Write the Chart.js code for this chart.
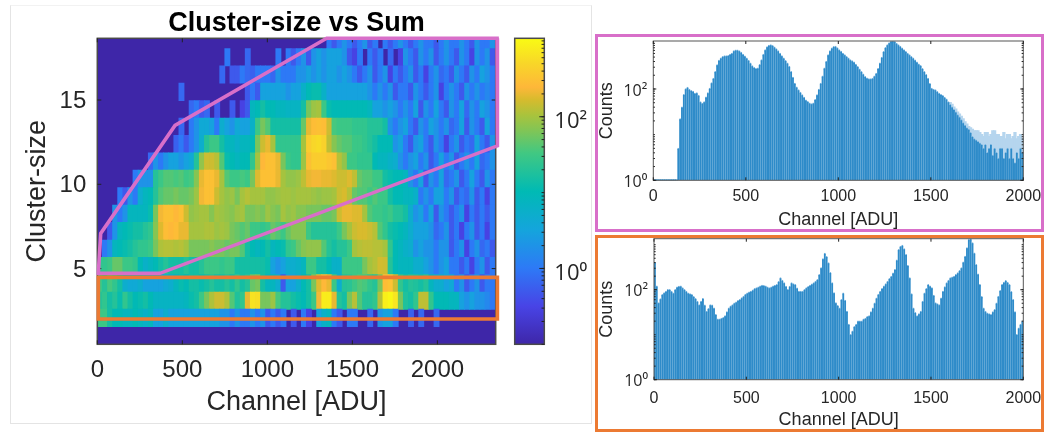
<!DOCTYPE html>
<html><head><meta charset="utf-8">
<style>
html,body{margin:0;padding:0;background:#fff;width:1044px;height:433px;overflow:hidden}
canvas{position:absolute;filter:blur(0.55px)}
.box{position:absolute;box-sizing:border-box;pointer-events:none}
</style>
<script src="https://cdn.jsdelivr.net/npm/chart.js@4"></script>
</head><body>
<div class="box" style="left:10px;top:5px;width:582px;height:419px;border:1px solid #e4e4e4;border-top-color:#f2f2f2"></div>
<canvas id="heat" width="512" height="433" style="left:0;top:0"></canvas>
<canvas id="cbar" width="95" height="433" style="left:500px;top:0"></canvas>
<canvas id="h1" width="470" height="217" style="left:596px;top:14px"></canvas>
<canvas id="h2" width="470" height="216" style="left:596px;top:216px"></canvas>
<div class="box" style="left:595px;top:34px;width:449px;height:198px;border:3px solid #D86FC9"></div>
<div class="box" style="left:595px;top:235px;width:449px;height:197px;border:3px solid #EC7A33"></div>
<script>
// ---- Heat map: counts per (cluster-size band, 30 ADU channel bin) ----
const rowEdges=[1.556,2.59,3.61,4.64,5.67,6.69,7.74,8.77,9.8,10.84,11.86,12.9,13.93,14.96,16,17.02,18.05,18.66];
const row0=[30,30,15,10,10,8,8,10,8,6, 8,3,3,5,3,3,3,3,3,3, 3,3,3,3,2,2,1,2,1,1, 2,1,2,0.5,1,0.5,1,0,0.5,0, 1,0.3,0,3,6,8,1,0.5,0,1, 1,0,0,0.7,0,2,3,3,1,0, 0,0.6,0,0.7,0,0,0.7,0,0,0, 0,0,0,0,0,0,0,0];
const row1=[20,25,15,20,12,25,15,10,12,15, 10,7,7,7,7,7,7,8,12,15, 30,60,110,150,150,110,40,18,25,200, 650,600,60,60,90,35,20,20,15,12, 10,15,30,220,800,800,200,20,15,60, 120,40,20,20,25,120,850,1000,700,60, 18,15,25,130,130,25,10,10,10,8, 8,3,2,3,2,2,1.5,1];
const row2=[30,20,35,25,15,5,4,4,5,3, 3,3,3,4,5,8,12,10,15,15, 12,15,20,15,15,20,15,25,15,20, 50,60,15,8,8,5,0.5,3,3,5, 10,15,60,180,250,200,30,5,20,22, 30,40,35,25,20,60,280,320,150,25, 15,20,18,15,20,8,5,5,3,4, 1,2,0.5,1,2,0.5,1,1];
const row3=[25,25,30,50,50,30,30,25,10,6, 8,10,15,20,15,15,15,20,15,15, 20,30,30,30,25,30,30,15,15,15, 15,15,15,12,3,2,3,5,5,6, 8,30,30,15,15,10,6,6,30,30, 30,30,60,100,120,160,150,20,10,8, 8,8,5,5,3,2,1,2,3,1, 1,0.5,1,0.3,1,2,0.5,1];
const row4=[0,1,2,8,10,12,15,20,25,25, 30,60,110,120,120,110,120,100,60,60, 60,60,70,60,60,50,60,60,40,15, 10,8,10,15,8,10,12,25,30,50, 70,80,80,80,40,20,15,20,20,30, 100,120,130,130,120,120,100,25,10,8, 6,5,2,3,2,2,1,2,2,0.5, 1,2,0.3,1,2,0.7,1,0.5];
const row5=[0,0,0.5,2,8,10,12,15,15,20, 25,70,180,280,250,280,200,200,100,100, 100,110,110,90,100,90,60,50,40,50, 30,30,25,30,50,40,30,50,70,70, 70,30,20,20,20,20,20,30,60,100, 150,170,170,150,120,40,25,15,12,10, 8,5,3,3,3,2,0.7,1,2,0.5, 1,0.3,1,2,0.5,1,0.3,1];
const row6=[0,0,0,2,1,2,8,8,8,8, 12,60,220,300,300,250,300,150,80,90, 100,100,70,100,90,80,70,90,100,60, 60,70,60,90,70,60,100,80,90,70, 70,60,60,60,50,50,60,150,200,200, 180,180,100,40,30,30,25,30,20,20, 15,5,2,3,1,3,0.5,2,1,0.5, 1,2,0.3,1,0.5,1,0.5,1];
const row7=[0,0,0,0,1,0.5,2,1,5,8, 10,20,40,50,50,60,50,50,60,90, 220,300,300,150,100,80,90,60,100,120, 100,100,100,80,80,90,100,100,90,100, 100,100,90,80,90,90,100,150,170,120, 50,40,40,30,40,30,30,15,10,10, 8,8,6,1,2,1,3,3,1,2, 0.5,1,0.7,2,0.5,1,0.3,1];
const row8=[0,0,0,0,0,0,0,1,2,2, 2,20,30,40,40,35,40,30,35,70, 200,300,300,200,100,40,30,30,35,30, 60,180,300,300,300,200,100,80,80,90, 130,200,220,220,200,200,180,150,150,180, 130,50,40,40,30,30,15,12,10,10, 8,2,1,3,0.5,2,1,3,0.7,1, 2,0.5,1,3,1,0.5,2,1];
const row9=[0,0,0,0,0,0,0,0,0,0, 0.7,2,1,2,3,3,2,3,4,20, 80,150,150,120,40,12,10,8,10,10, 25,100,250,300,300,200,60,30,25,25, 90,300,400,400,400,350,300,120,80,30, 30,25,25,25,10,8,8,6,5,2, 1,2,3,1,2,0.5,1,3,1,2, 0.5,1,2,1,3,0.7,1,2];
const row10=[0,0,0,0,0,0,0,0,0,0, 0,0,0,0,0,0.6,1,0.5,1,2, 5,20,30,30,15,8,8,6,8,8, 10,60,150,200,100,25,25,25,25,25, 100,400,500,550,450,130,70,50,40,40, 30,30,25,20,15,10,10,10,2,3, 1,0.5,2,3,1,0.5,2,1,0.3,1, 2,0.5,1,0.7,3,1,0.5,2];
const row11=[0,0,0,0,0,0,0,0,0,0, 0,0,0,0,0,0,0.7,0,1,2, 4,4,3,1,5,3,2,4,3,3, 6,30,60,40,15,15,15,15,15,15, 50,200,280,300,280,150,35,30,30,30, 25,25,25,20,20,20,15,2,1,2, 3,1,0.5,2,1,3,2,1,2,0.7, 1,3,0.5,2,1,0.5,3,1];
const row12=[0,0,0,0,0,0,0,0,0,0, 0,0,0,0,0,0,0,0,0.7,1, 0.5,0.7,0,0.5,0,0,0.5,0,0.3,0.5, 8,10,15,10,10,8,8,7,7,7, 15,60,90,100,30,12,10,10,10,10, 10,10,10,8,3,3,2,3,2,1, 2,1,3,0.5,2,1,3,1,0.5,2, 1,3,0.7,2,1,3,2,1];
const row13=[0,0,0,0,0,0,0,0,0,0, 0,0,0,0,0,0,0.7,0,0,0, 0,0,0,0,0,0,0,0,0,0.5, 1,0.5,3,3,3,3,3,2,3,3, 6,10,12,12,6,3,3,3,3,3, 3,3,3,2,1,2,1,2,0.5,1, 1,0.5,2,1,0.5,1,2,0.3,1,2, 1,0.5,2,1,2,1,1.5,1];
const row14=[0,0,0,0,0,0,0,0,0,0, 0,0,0,0,0,0,0,0,0,0, 0,0,0,0,0.7,0,0.5,0.5,1,0.7, 0.6,1,1,1,0.7,2,1,1,1,2, 2,3,2,3,2,3,3,2,3,2, 1,0.5,1,2,0.5,1,2,0.3,1,0.5, 1,2,0.5,1,0.3,1,2,0.7,1,0.5, 2,1,0.5,2,1,3,2,1];
const row15=[0,0,0,0,0,0,0,0,0,0, 0,0,0,0,0,0,0,0,0,0, 0,0,0,0,0,1,0,0,0,0.7, 0,0,0,0,0,1,0,1,0.5,1, 2,0.5,2,3,2,3,3,3,2,0.5, 0.3,1,0,1,0.5,1,0,0.7,0,0.3, 2,1,0.5,2,1,2,0.5,1,2,1, 0.5,2,1,0.3,2,1,2,0.5];
const row16=[0,0,0,0,0,0,0,0,0,0, 0,0,0,0,0,0,0,0,0,0, 0,0,0,0,0,0,0,0,0,0, 0,0,0,0,0,0,0,0,0,0, 0,0,0,0,0,1,0.5,1,2,1, 0.5,1,2,0.5,1,0,1,0.5,1,2, 1,0.5,1,2,1,1,0.5,1,2,1, 1,2,1,0.5,2,1,1,2];
const heatRows=[row0,row1,row2,row3,row4,row5,row6,row7,row8,row9,row10,row11,row12,row13,row14,row15,row16];
const heatBinWidth=30;
// Selection outlines (Channel, Cluster-size)
const pinkX=[6,20,457,1349,2351,2353,369,6];
const pinkY=[4.72,7.09,13.49,18.66,18.66,12.28,4.72,4.72];
const orangeX=[6,2353,2353,6,6];
const orangeY=[4.48,4.48,2.01,2.01,4.48];
// Axis ticks
const heatXTicks=[0,500,1000,1500,2000];
const heatYTicks=[5,10,15];
const countTicks=[1,100];
const countLabels=['10\u2070','10\u00B2'];
const histXTicks=[0,500,1000,1500,2000];
const colorRange=[0.1,1082];
// ---- Histograms: counts per 10 ADU channel bin, 0..1990 ----
const histBinWidth=10;
const histPink=[0,0,0,0,0,0,0,0,0,0,0,0,0,5,22,40,75,100,108,98,
92,88,80,82,72,52,48,52,66,82,103,135,171,240,336,420,470,510,528,530,
537,570,604,680,703,710,679,630,574,520,470,420,365,320,293,280,284,340,432,570,
714,830,900,920,890,820,752,680,604,530,470,415,365,310,240,180,133,110,95,84,
74,65,57,53,49,47,49,58,74,98,133,190,284,400,555,680,778,840,860,790,
714,660,604,555,511,470,432,410,384,345,308,272,240,210,186,172,166,166,171,190,
220,280,365,490,657,800,920,1020,1100,1120,1090,1000,920,850,778,715,657,600,555,510,
470,425,384,350,324,280,240,205,171,130,103,98,95,87,80,75,71,65,60,52,
45,40,35,31,27,24,21,18,16,14,13,11,9,8,7.6,7,6.5,6,5,6,
4,5,6,3.5,5,4,3,5,5,3,4,5,3,5,3,2.4,4,3,5,4];
const histPinkPeaks=[50,46,40,36,31,28,25,22,19,17,15,14,13,12,12,12,11,10,9,11,11,9,10,12,12,10,10,9,9,11,8,10,10,8,9,11,8,9,10,8];
const histOrange=[400,120,51,62,77,85,92,100,100,92,84,100,113,118,119,110,100,92,84,80,
77,70,63,55,46,55,63,45,33,38,46,45,39,28,22,22,23,24,26,32,
39,43,46,50,53,57,60,66,71,78,84,88,92,98,105,109,113,119,125,122,
119,114,109,114,119,124,129,150,182,160,141,118,100,118,141,135,129,108,92,92,
92,100,109,117,125,133,141,153,167,215,303,480,640,540,391,240,141,85,51,44,
39,60,84,58,33,17,10,12,15,17,20,20,20,22,23,25,26,32,39,50,
65,78,92,105,119,135,153,175,198,232,278,450,774,920,967,800,600,340,182,80,
39,31,26,29,33,55,84,105,129,120,109,75,51,48,46,65,92,115,141,160,
182,190,198,215,235,265,303,410,550,850,1290,1340,1090,650,360,220,129,70,39,33,
30,29,28,32,36,50,71,95,129,145,158,145,129,90,60,32,10,14,17,20];

// ---- Colours ----
const parula=[[0,62,38,168],[0.125,72,68,230],[0.25,45,122,246],[0.375,20,165,220],[0.5,0,186,180],[0.625,65,200,130],[0.7,130,197,85],[0.75,170,195,60],[0.8,215,187,45],[0.84,254,183,57],[0.92,248,215,40],[1,249,251,20]];
const lmin=Math.log10(colorRange[0]),lmax=Math.log10(colorRange[1]);
function colorOf(c){
  const t=Math.max(0,Math.min(1,(Math.log10(Math.max(c,colorRange[0]))-lmin)/(lmax-lmin)));
  for(let i=1;i<parula.length;i++){
    if(t<=parula[i][0]){const a=parula[i-1],b=parula[i],f=(t-a[0])/(b[0]-a[0]);
      return `rgb(${[1,2,3].map(k=>Math.round(a[k]+(b[k]-a[k])*f)).join(',')})`;}
  }
  return 'rgb(249,251,20)';
}
const FONT='"Liberation Sans", Arial, sans-serif', EXPFONT='"Open Sans", "Liberation Sans", sans-serif', INK='#262626';

// MATLAB style box: inward ticks on every requested side
const framePlugin={id:'frame',
  beforeDraw(c){c.$framed=false;},
  beforeDatasetsDraw(c,a,o){if(o.bg){const r=c.chartArea;c.ctx.fillStyle=o.bg;c.ctx.fillRect(r.left,r.top,r.right-r.left,r.bottom-r.top);}},
  beforeDatasetDraw(c,a,o){if(a.meta.type==='line'&&!c.$framed)drawFrame(c,o);},
  afterDatasetsDraw(c,a,o){if(!c.$framed)drawFrame(c,o);}
};
function drawFrame(c,o){
  c.$framed=true;
  const g=c.ctx,r=c.chartArea,y=c.scales.y,x=c.scales.x;
  g.save();g.strokeStyle=o.color||'#444';g.lineWidth=o.width||1;
  g.strokeRect(r.left,r.top,r.right-r.left,r.bottom-r.top);
  g.lineWidth=1;g.strokeStyle='#222';
  const L=o.len||4,sides=o.sides||'lrtb';
  g.beginPath();
  if(x.type!=='category'){for(const t of x.ticks){const p=x.getPixelForValue(t.value);
    if(sides.includes('b')){g.moveTo(p,r.bottom);g.lineTo(p,r.bottom-L);}
    if(sides.includes('t')){g.moveTo(p,r.top);g.lineTo(p,r.top+L);}}}
  const mark=(v,l)=>{const p=y.getPixelForValue(v);if(p<r.top-.5||p>r.bottom+.5)return;
    if(sides.includes('l')){g.moveTo(r.left,p);g.lineTo(r.left+l,p);}
    if(sides.includes('r')){g.moveTo(r.right,p);g.lineTo(r.right-l,p);}};
  for(const t of y.ticks)mark(t.value,L);
  if(y.type==='logarithmic'){
    for(let d=-1;d<4;d++)for(let m=1;m<10;m++)mark(m*Math.pow(10,d),L*0.55);
  }
  g.stroke();g.restore();
}
Chart.register(framePlugin);

function base(extra){return Object.assign({responsive:false,animation:false,events:[],devicePixelRatio:1},extra);}
const fixedTicks=list=>s=>{s.ticks=list.map(v=>({value:v}));};
const noGrid={display:false,drawTicks:false};

// ---- Heat map chart ----
const heatSets=[];
heatRows.forEach((row,k)=>{
  const pts=[];
  row.forEach((v,i)=>{if(v>0)pts.push({x:i*heatBinWidth+heatBinWidth/2,y:[rowEdges[k],rowEdges[k+1]],v});});
  heatSets.push({type:'bar',order:2,data:pts,grouped:false,barPercentage:1,categoryPercentage:1,
    backgroundColor:pts.map(p=>colorOf(p.v)),borderWidth:0,inflateAmount:0.4});
});
const outline=(xs,ys,col,w)=>({type:'line',order:0,data:xs.map((x,i)=>({x,y:ys[i]})),borderColor:col,borderWidth:w,
  pointRadius:0,tension:0,clip:false,borderJoinStyle:'miter',borderCapStyle:'square',fill:false});
new Chart(document.getElementById('heat'),{type:'bar',
  data:{datasets:[outline(pinkX,pinkY,'#D86FC9',3.6),outline(orangeX,orangeY,'#EC7A33',3.6),...heatSets]},
  options:base({
    layout:{padding:{left:0,right:16.3,top:0,bottom:0}},
    plugins:{legend:{display:false},tooltip:{enabled:false},
      frame:{bg:'#3E26A8',color:'#4a4a4a',width:1.5,len:4},
      title:{display:true,fullSize:false,text:'Cluster-size vs Sum',color:'#000',font:{family:FONT,size:27,weight:'bold',lineHeight:1},padding:{top:10.5,bottom:0.8}}},
    scales:{
      x:{type:'linear',min:0,max:2343,offset:false,grid:noGrid,border:{display:false},
        afterFit:s=>{s.height=88.7;},afterBuildTicks:fixedTicks(heatXTicks),
        ticks:{color:INK,font:{family:FONT,size:24},padding:12,maxRotation:0,autoSkip:false,callback:v=>String(v)},
        title:{display:true,text:'Channel [ADU]',color:INK,font:{family:FONT,size:27,lineHeight:1.2},padding:{top:0,bottom:14}}},
      y:{type:'linear',min:0.51,max:18.66,grid:noGrid,border:{display:false},
        afterFit:s=>{s.width=97.3;},afterBuildTicks:fixedTicks(heatYTicks),
        ticks:{color:INK,font:{family:FONT,size:24},padding:11,labelOffset:1.5,autoSkip:false,callback:v=>String(v)},
        title:{display:true,text:'Cluster-size',color:INK,font:{family:FONT,size:27,lineHeight:1.2},padding:{top:21,bottom:0}}}
    }})
});

// ---- Colour bar ----
new Chart(document.getElementById('cbar'),{type:'bar',
  data:{labels:['Counts'],datasets:[{data:[colorRange],barPercentage:1,categoryPercentage:1,borderWidth:0,
    backgroundColor:ctx=>{const a=ctx.chart.chartArea;if(!a)return '#3E26A8';
      const g=ctx.chart.ctx.createLinearGradient(0,a.bottom,0,a.top);parula.forEach(s=>g.addColorStop(s[0],`rgb(${s[1]},${s[2]},${s[3]})`));return g;}}]},
  options:base({
    layout:{padding:{left:14.7,right:5,top:38.3,bottom:0}},
    plugins:{legend:{display:false},tooltip:{enabled:false},frame:{color:'#4a4a4a',width:1.5,len:5,sides:'r'}},
    scales:{
      x:{display:true,grid:noGrid,border:{display:false},ticks:{display:false},afterFit:s=>{s.height=88.7;}},
      y:{type:'logarithmic',position:'right',min:colorRange[0],max:colorRange[1],grid:noGrid,border:{display:false},
        afterFit:s=>{s.width=45.7;},afterBuildTicks:fixedTicks(countTicks),
        ticks:{color:INK,font:{family:EXPFONT,size:22},padding:10,labelOffset:5,autoSkip:false,callback:v=>countLabels[countTicks.indexOf(v)]}}
    }})
});

// ---- Histograms ----
function histChart(id,values,peaks,yMax,padTop,xH,yW,pads){
  const cx=(v,i)=>({x:i*histBinWidth+histBinWidth/2,y:v});
  const sets=[{data:values.map(cx),order:1,grouped:false,barPercentage:1,categoryPercentage:1,backgroundColor:'#2E8BC9',
     borderColor:'#7FB7E0',borderWidth:{top:1,left:0,right:0,bottom:0},borderSkipped:false,inflateAmount:0.7}];
  if(peaks.length){const start=values.length-peaks.length;
    sets.push({data:peaks.map((v,i)=>cx(v,i+start)),order:2,grouped:false,barPercentage:1,categoryPercentage:1,backgroundColor:'#B5D5EE',borderWidth:0,inflateAmount:0.7});}
  new Chart(document.getElementById(id),{type:'bar',data:{datasets:sets},
    options:base({
      layout:{padding:{left:0,right:42.7,top:padTop,bottom:0}},
      plugins:{legend:{display:false},tooltip:{enabled:false},frame:{color:'#555',width:1,len:3}},
      scales:{
        x:{type:'linear',min:0,max:2000,offset:false,grid:noGrid,border:{display:false},
          afterFit:s=>{s.height=xH;},afterBuildTicks:fixedTicks(histXTicks),
          ticks:{color:INK,font:{family:FONT,size:16},padding:pads.tick,maxRotation:0,autoSkip:false,callback:v=>String(v)},
          title:{display:true,text:'Channel [ADU]',color:INK,font:{family:FONT,size:18,lineHeight:1.2},padding:{top:0,bottom:pads.title}}},
        y:{type:'logarithmic',min:1,max:yMax,grid:noGrid,border:{display:false},
          afterFit:s=>{s.width=yW;},afterBuildTicks:fixedTicks(countTicks),
          ticks:{color:INK,font:{family:EXPFONT,size:16},padding:6,labelOffset:2,autoSkip:false,callback:v=>countLabels[countTicks.indexOf(v)]},
          title:{display:true,text:'Counts',color:INK,font:{family:FONT,size:18,lineHeight:1.2},padding:{top:0,bottom:0}}}
      }})
  });
}
histChart('h1',histPink,histPinkPeaks,1125,27,50.7,57.3,{tick:6.8,title:0.5});
histChart('h2',histOrange,[],1360,22.7,52.3,58,{tick:9,title:1});
</script>
</body></html>
